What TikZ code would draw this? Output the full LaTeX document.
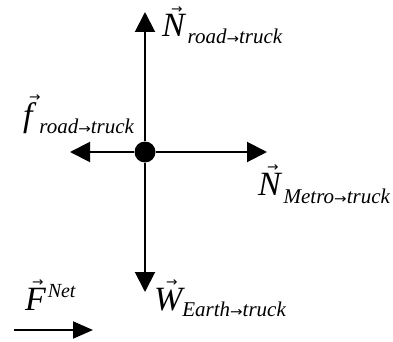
\documentclass[tikz,border=0pt]{standalone}
\usepackage{fontspec}
\usepackage{graphicx}
\setmainfont{Liberation Serif}
\newfontfamily\arrowfont{DejaVu Sans}
\usetikzlibrary{arrows.meta}
\newcommand\VecLetter[2]{%
  \setbox0=\hbox{\fontsize{34}{34}\selectfont\itshape #1}%
  \rlap{\kern#2\raisebox{\dimexpr\ht0+1pt\relax}{\fontsize{13}{13}\arrowfont\scalebox{1.05}[1]{→}}}\box0}
\newcommand\SubArr{{\fontsize{15}{15}\arrowfont\scalebox{1}[0.9]{→}}}
\newcommand\Sub[2]{\raisebox{-#1}{\fontsize{21}{21}\selectfont\itshape #2}}
\tikzset{
  force/.style={line width=2pt,-{Triangle[length=20pt,width=20pt]}},
  lbl/.style={anchor=base west,inner sep=0pt,outer sep=0pt},
  dot/.style={circle,fill=black,minimum size=21pt,inner sep=0pt}
}
\begin{document}
\begin{tikzpicture}[x=1pt,y=-1pt]
\useasboundingbox (0,0) rectangle (393,342);
\node[dot] (c) at (145,152) {};
\coordinate (tu) at (145,12);
\coordinate (tl) at (70,152);
\coordinate (tr) at (267,152);
\coordinate (td) at (145,292);
\coordinate (fs) at (14,330);
\coordinate (fe) at (93,330);
\draw[force] (c) -- (tu);
\draw[force] (c) -- (tl);
\draw[force] (c) -- (tr);
\draw[force] (c) -- (td);
\draw[line width=2pt,-{Triangle[length=20pt,width=17pt]}] (fs) -- (fe);
\node[lbl] (nroad) at (162,37) {\VecLetter{N}{9pt}\hspace{3pt}\Sub{7pt}{road\SubArr truck}};
\node[lbl] (froad) at (23,126) {\VecLetter{f}{6pt}\hspace{7pt}\Sub{7pt}{road\SubArr truck}};
\node[lbl] (nmetro) at (258,195) {\VecLetter{N}{9pt}\hspace{3pt}\Sub{8pt}{Metro\SubArr truck}};
\node[lbl] (wearth) at (154,310) {\VecLetter{W}{12pt}\hspace{0pt}\Sub{6pt}{Earth\SubArr truck}};
\node[lbl] (fnet) at (25,310) {\VecLetter{F}{7pt}\hspace{2pt}\raisebox{13pt}{\fontsize{20}{20}\selectfont\itshape Net}};
\end{tikzpicture}
\end{document}
